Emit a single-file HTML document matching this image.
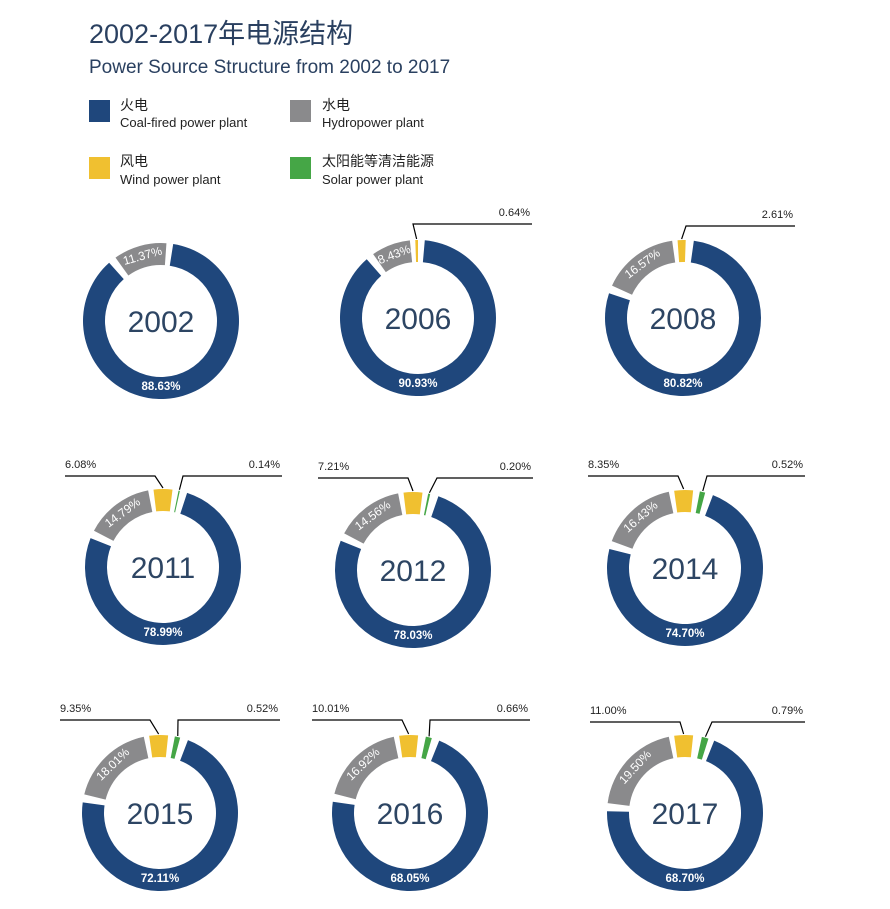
<!DOCTYPE html>
<html><head><meta charset="utf-8">
<style>
html,body{margin:0;padding:0;background:#fff;}
svg{display:block;}
text{font-family:"Liberation Sans","Noto Sans CJK SC",sans-serif;}
</style></head>
<body>
<svg id="s" width="890" height="909" viewBox="0 0 890 909" xmlns="http://www.w3.org/2000/svg">
<text x="89" y="43" font-size="27" fill="#2a4060">2002-2017年电源结构</text>
<text x="89" y="73" font-size="19" fill="#2a4060">Power Source Structure from 2002 to 2017</text>
<rect x="89" y="100" width="21" height="22" fill="#1f477c"/>
<rect x="290" y="100" width="21" height="22" fill="#8a8a8c"/>
<rect x="89" y="157" width="21" height="22" fill="#f0c030"/>
<rect x="290" y="157" width="21" height="22" fill="#45a646"/>
<text x="120" y="110" font-size="14" fill="#222">火电</text>
<text x="120" y="127" font-size="13" fill="#222">Coal-fired power plant</text>
<text x="322" y="110" font-size="14" fill="#222">水电</text>
<text x="322" y="127" font-size="13" fill="#222">Hydropower plant</text>
<text x="120" y="166" font-size="14" fill="#222">风电</text>
<text x="120" y="184" font-size="13" fill="#222">Wind power plant</text>
<text x="322" y="166" font-size="14" fill="#222">太阳能等清洁能源</text>
<text x="322" y="184" font-size="13" fill="#222">Solar power plant</text>
<g id="charts"></g>
</svg>
<script>
var C=["#1f477c","#8a8a8c","#f0c030","#45a646"];
/* s: blue start, ge: gray end, yw: yellow width, gw: green width */
var data=[
 {y:"2002",cx:161,cy:321,v:[88.63,11.37],s:9,ge:4},
 {y:"2006",cx:418,cy:318,v:[90.93,8.43,0.64],s:5,ge:-6,yc:-1,yw:2,ly:224,yl:[413,532,"r"]},
 {y:"2008",cx:683,cy:318,v:[80.82,16.57,2.61],s:8,ge:-8,yc:-1,yw:6,ly:226,yl:[686,795,"r"]},
 {y:"2011",cx:163,cy:567,v:[78.99,14.79,6.08,0.14],s:18,ge:-11,yc:0,yw:14,gc:12,gw:1,ly:476,yl:[65,155],gl:[183,282]},
 {y:"2012",cx:413,cy:570,v:[78.03,14.56,7.21,0.20],s:19,ge:-11,yc:0,yw:14,gc:12,gw:1.5,ly:478,yl:[318,408],gl:[437,533]},
 {y:"2014",cx:685,cy:568,v:[74.70,16.43,8.35,0.52],s:21,ge:-12,yc:-1,yw:14,gc:13,gw:4,ly:476,yl:[588,678],gl:[707,805]},
 {y:"2015",cx:160,cy:813,v:[72.11,18.01,9.35,0.52],s:21,ge:-12,yc:-1,yw:14,gc:13,gw:4,ly:720,yl:[60,150],gl:[178,280]},
 {y:"2016",cx:410,cy:813,v:[68.05,16.92,10.01,0.66],s:22,ge:-12,yc:-1,yw:14,gc:14,gw:4.5,ly:720,yl:[312,402],gl:[430,530]},
 {y:"2017",cx:685,cy:813,v:[68.70,19.50,11.00,0.79],s:22,ge:-12,yc:-1,yw:14,gc:15,gw:5,ly:722,yl:[590,680],gl:[712,805]}
];
var R=78,r=56,gap=6,out="";
function pt(cx,cy,rad,a){var t=(a-90)*Math.PI/180;return [cx+rad*Math.cos(t),cy+rad*Math.sin(t)];}
function arc(cx,cy,a0,a1){var p1=pt(cx,cy,R,a0),p2=pt(cx,cy,R,a1),p3=pt(cx,cy,r,a1),p4=pt(cx,cy,r,a0);var l=(a1-a0)>180?1:0;
return "M"+p1+"A"+R+","+R+" 0 "+l+" 1 "+p2+"L"+p3+"A"+r+","+r+" 0 "+l+" 0 "+p4+"Z";}
data.forEach(function(d){
 var ge=d.ge+360,avail=ge-d.s-gap,bsp=avail*d.v[0]/(d.v[0]+d.v[1]);
 var be=d.s+bsp,gs=be+gap;
 out+='<path d="'+arc(d.cx,d.cy,d.s,be)+'" fill="'+C[0]+'"/>';
 out+='<path d="'+arc(d.cx,d.cy,gs,ge)+'" fill="'+C[1]+'"/>';
 var ymid,gmid;
 if(d.yw){ymid=d.yc;out+='<path d="'+arc(d.cx,d.cy,d.yc-d.yw/2,d.yc+d.yw/2)+'" fill="'+C[2]+'"/>';}
 if(d.gw){gmid=d.gc;out+='<path d="'+arc(d.cx,d.cy,d.gc-d.gw/2,d.gc+d.gw/2)+'" fill="'+C[3]+'"/>';}
 out+='<text x="'+d.cx+'" y="'+(d.cy+11)+'" font-size="30" text-anchor="middle" fill="#2d4563">'+d.y+'</text>';
 out+='<text x="'+d.cx+'" y="'+(d.cy+69)+'" font-size="11.5" font-weight="bold" text-anchor="middle" fill="#fff">'+d.v[0].toFixed(2)+'%</text>';
 var gm=(gs+ge)/2-360,gp=pt(d.cx,d.cy,67,gm);
 out+='<text x="'+gp[0]+'" y="'+gp[1]+'" font-size="12" text-anchor="middle" dominant-baseline="middle" fill="#fff" transform="rotate('+gm+' '+gp[0]+' '+gp[1]+')">'+d.v[1].toFixed(2)+'%</text>';
 if(d.yl){var yp=pt(d.cx,d.cy,R+1,ymid);
  if(d.yl[2]=="r"){out+='<polyline points="'+yp+' '+d.yl[0]+','+d.ly+' '+d.yl[1]+','+d.ly+'" fill="none" stroke="#000" stroke-width="1.2"/>';
   out+='<text x="'+(d.yl[1]-2)+'" y="'+(d.ly-8)+'" font-size="11" text-anchor="end" fill="#222">'+d.v[2].toFixed(2)+'%</text>';}
  else{out+='<polyline points="'+d.yl[0]+','+d.ly+' '+d.yl[1]+','+d.ly+' '+yp+'" fill="none" stroke="#000" stroke-width="1.2"/>';
   out+='<text x="'+d.yl[0]+'" y="'+(d.ly-8)+'" font-size="11" fill="#222">'+d.v[2].toFixed(2)+'%</text>';}}
 if(d.gl){var g=pt(d.cx,d.cy,R+1,gmid);
  out+='<polyline points="'+g+' '+d.gl[0]+','+d.ly+' '+d.gl[1]+','+d.ly+'" fill="none" stroke="#000" stroke-width="1.2"/>';
  out+='<text x="'+(d.gl[1]-2)+'" y="'+(d.ly-8)+'" font-size="11" text-anchor="end" fill="#222">'+d.v[3].toFixed(2)+'%</text>';}
});
document.getElementById("charts").innerHTML=out;
</script>
</body></html>
